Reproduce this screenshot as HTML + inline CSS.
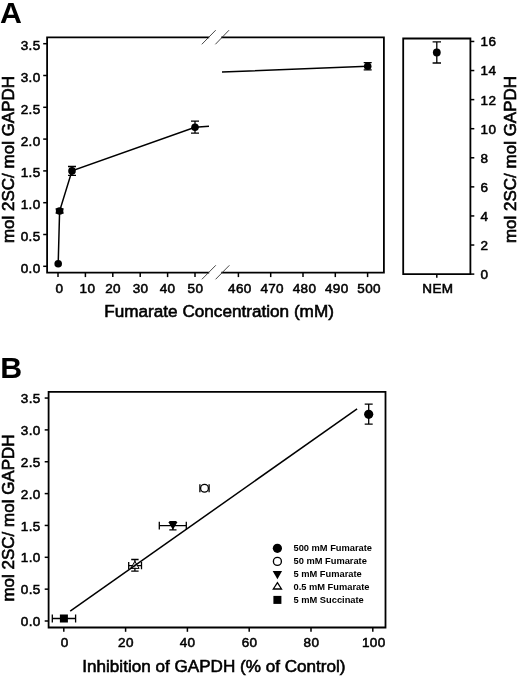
<!DOCTYPE html>
<html><head><meta charset="utf-8"><title>Figure</title>
<style>
html,body{margin:0;padding:0;background:#fff;}
body{width:520px;height:677px;overflow:hidden;}
svg{display:block;}
text{font-family:"Liberation Sans",Arial,Helvetica,sans-serif;fill:#000;}
.tk{font-size:13.5px;letter-spacing:0.35px;stroke:#000;stroke-width:0.55px;}
.ax{font-size:17px;stroke:#000;stroke-width:0.6px;}
.ax2{font-size:16px;stroke:#000;stroke-width:0.5px;}
.pl{font-size:30.3px;font-weight:bold;}
.lg{font-size:9.3px;font-weight:bold;}
.fr{stroke:#000;stroke-width:1.8;fill:none;stroke-linecap:square;}
.t{stroke:#000;stroke-width:1.5;fill:none;}
.d{stroke:#000;stroke-width:1.5;fill:none;}
.e{stroke:#000;stroke-width:1.3;fill:none;}
.s{stroke:#333;stroke-width:0.9;fill:none;}
</style></head><body>
<svg width="520" height="677" viewBox="0 0 520 677" style="will-change:transform;transform:translateZ(0)">
<rect width="520" height="677" fill="#fff"/>

<text class="pl" x="0" y="22.6">A</text>
<path class="fr" d="M208.3,37.3 H47.1 V272.6 H208.3 M222.2,272.6 H383.9 V37.3 H222.2"/>
<line class="s" x1="201.8" y1="44.3" x2="215.7" y2="30.2"/>
<line class="s" x1="215.4" y1="44.3" x2="229.0" y2="30.2"/>
<line class="s" x1="201.9" y1="279.3" x2="215.8" y2="265.3"/>
<line class="s" x1="215.6" y1="279.3" x2="229.4" y2="265.3"/>
<line class="t" x1="43.2" y1="266.3" x2="47.1" y2="266.3"/>
<text class="tk" text-anchor="end" x="40.5" y="272.7">0.0</text>
<line class="t" x1="43.2" y1="234.5" x2="47.1" y2="234.5"/>
<text class="tk" text-anchor="end" x="40.5" y="240.9">0.5</text>
<line class="t" x1="43.2" y1="202.7" x2="47.1" y2="202.7"/>
<text class="tk" text-anchor="end" x="40.5" y="209.1">1.0</text>
<line class="t" x1="43.2" y1="170.9" x2="47.1" y2="170.9"/>
<text class="tk" text-anchor="end" x="40.5" y="177.3">1.5</text>
<line class="t" x1="43.2" y1="139.1" x2="47.1" y2="139.1"/>
<text class="tk" text-anchor="end" x="40.5" y="145.5">2.0</text>
<line class="t" x1="43.2" y1="107.3" x2="47.1" y2="107.3"/>
<text class="tk" text-anchor="end" x="40.5" y="113.7">2.5</text>
<line class="t" x1="43.2" y1="75.5" x2="47.1" y2="75.5"/>
<text class="tk" text-anchor="end" x="40.5" y="81.9">3.0</text>
<line class="t" x1="43.2" y1="43.7" x2="47.1" y2="43.7"/>
<text class="tk" text-anchor="end" x="40.5" y="50.1">3.5</text>
<line class="t" x1="58" y1="272.6" x2="58" y2="277.1"/>
<text class="tk" text-anchor="middle" x="59.5" y="292.7">0</text>
<line class="t" x1="85.4" y1="272.6" x2="85.4" y2="277.1"/>
<text class="tk" text-anchor="middle" x="87.4" y="292.7">10</text>
<line class="t" x1="112.8" y1="272.6" x2="112.8" y2="277.1"/>
<text class="tk" text-anchor="middle" x="113" y="292.7">20</text>
<line class="t" x1="140.2" y1="272.6" x2="140.2" y2="277.1"/>
<text class="tk" text-anchor="middle" x="140.6" y="292.7">30</text>
<line class="t" x1="167.6" y1="272.6" x2="167.6" y2="277.1"/>
<text class="tk" text-anchor="middle" x="167.6" y="292.7">40</text>
<line class="t" x1="195" y1="272.6" x2="195" y2="277.1"/>
<text class="tk" text-anchor="middle" x="195.4" y="292.7">50</text>
<line class="t" x1="238.4" y1="272.6" x2="238.4" y2="277.1"/>
<text class="tk" text-anchor="middle" x="239.9" y="292.7">460</text>
<line class="t" x1="270.7" y1="272.6" x2="270.7" y2="277.1"/>
<text class="tk" text-anchor="middle" x="272.2" y="292.7">470</text>
<line class="t" x1="303" y1="272.6" x2="303" y2="277.1"/>
<text class="tk" text-anchor="middle" x="304.5" y="292.7">480</text>
<line class="t" x1="335.3" y1="272.6" x2="335.3" y2="277.1"/>
<text class="tk" text-anchor="middle" x="336.8" y="292.7">490</text>
<line class="t" x1="367.6" y1="272.6" x2="367.6" y2="277.1"/>
<text class="tk" text-anchor="middle" x="369.1" y="292.7">500</text>
<text class="ax" style="font-size:17.15px" x="104.3" y="316.6">Fumarate Concentration (mM)</text>
<text class="ax" transform="translate(13.8,243.1) rotate(-90)">mol 2SC/ mol GAPDH</text>
<path class="d" d="M58.2,263.7 L59.6,211 L72,170.9 L195,127.2 L209,126.3 M222,72 L367.7,66.3"/>
<circle cx="58.2" cy="263.7" r="3.8" fill="#000"/>
<path class="e" d="M59.6,209 V213 M55.6,209 H63.6 M55.6,213 H63.6"/>
<circle cx="59.6" cy="211" r="3.8" fill="#000"/>
<path class="e" d="M72,166.5 V175.3 M68,166.5 H76 M68,175.3 H76"/>
<circle cx="72" cy="170.9" r="3.8" fill="#000"/>
<path class="e" d="M195,121.2 V133.2 M191,121.2 H199 M191,133.2 H199"/>
<circle cx="195" cy="127.2" r="3.8" fill="#000"/>
<path class="e" d="M367.7,62.7 V69.9 M363.7,62.7 H371.7 M363.7,69.9 H371.7"/>
<circle cx="367.7" cy="66.3" r="3.8" fill="#000"/>
<path class="fr" d="M403.2,38.5 H470.4 V274.1 H403.2 Z"/>
<line class="t" x1="470.4" y1="274.1" x2="474.3" y2="274.1"/>
<text class="tk" x="480.6" y="279">0</text>
<line class="t" x1="470.4" y1="245.02" x2="474.3" y2="245.02"/>
<text class="tk" x="480.6" y="249.92">2</text>
<line class="t" x1="470.4" y1="215.94" x2="474.3" y2="215.94"/>
<text class="tk" x="480.6" y="220.84">4</text>
<line class="t" x1="470.4" y1="186.86" x2="474.3" y2="186.86"/>
<text class="tk" x="480.6" y="191.76">6</text>
<line class="t" x1="470.4" y1="157.78" x2="474.3" y2="157.78"/>
<text class="tk" x="480.6" y="162.68">8</text>
<line class="t" x1="470.4" y1="128.7" x2="474.3" y2="128.7"/>
<text class="tk" x="480.6" y="133.6">10</text>
<line class="t" x1="470.4" y1="99.62" x2="474.3" y2="99.62"/>
<text class="tk" x="480.6" y="104.52">12</text>
<line class="t" x1="470.4" y1="70.54" x2="474.3" y2="70.54"/>
<text class="tk" x="480.6" y="75.44">14</text>
<line class="t" x1="470.4" y1="41.46" x2="474.3" y2="41.46"/>
<text class="tk" x="480.6" y="46.36">16</text>
<line class="t" x1="436.8" y1="274" x2="436.8" y2="277.8"/>
<text class="tk" text-anchor="middle" x="437.9" y="293.4">NEM</text>
<path class="e" d="M436.8,41.8 V63 M432.6,41.8 H441 M432.6,63 H441"/>
<circle cx="436.8" cy="52.5" r="3.9" fill="#000"/>
<text class="ax" transform="translate(516.3,243.1) rotate(-90)">mol 2SC/ mol GAPDH</text>
<text class="pl" x="0.3" y="377.5">B</text>
<path class="fr" d="M48.6,391.8 H385.5 V627.5 H48.6 Z"/>
<line class="t" x1="44.7" y1="621" x2="48.6" y2="621"/>
<text class="tk" text-anchor="end" x="40.7" y="626.1">0.0</text>
<line class="t" x1="44.7" y1="589.15" x2="48.6" y2="589.15"/>
<text class="tk" text-anchor="end" x="40.7" y="594.25">0.5</text>
<line class="t" x1="44.7" y1="557.3" x2="48.6" y2="557.3"/>
<text class="tk" text-anchor="end" x="40.7" y="562.4">1.0</text>
<line class="t" x1="44.7" y1="525.45" x2="48.6" y2="525.45"/>
<text class="tk" text-anchor="end" x="40.7" y="530.55">1.5</text>
<line class="t" x1="44.7" y1="493.6" x2="48.6" y2="493.6"/>
<text class="tk" text-anchor="end" x="40.7" y="498.7">2.0</text>
<line class="t" x1="44.7" y1="461.75" x2="48.6" y2="461.75"/>
<text class="tk" text-anchor="end" x="40.7" y="466.85">2.5</text>
<line class="t" x1="44.7" y1="429.9" x2="48.6" y2="429.9"/>
<text class="tk" text-anchor="end" x="40.7" y="435">3.0</text>
<line class="t" x1="44.7" y1="398.05" x2="48.6" y2="398.05"/>
<text class="tk" text-anchor="end" x="40.7" y="403.15">3.5</text>
<line class="t" x1="63.8" y1="627.5" x2="63.8" y2="631.8"/>
<text class="tk" text-anchor="middle" x="64.7" y="647.3">0</text>
<line class="t" x1="125.6" y1="627.5" x2="125.6" y2="631.8"/>
<text class="tk" text-anchor="middle" x="125.9" y="647.3">20</text>
<line class="t" x1="187.4" y1="627.5" x2="187.4" y2="631.8"/>
<text class="tk" text-anchor="middle" x="187.6" y="647.3">40</text>
<line class="t" x1="249.2" y1="627.5" x2="249.2" y2="631.8"/>
<text class="tk" text-anchor="middle" x="249.6" y="647.3">60</text>
<line class="t" x1="311" y1="627.5" x2="311" y2="631.8"/>
<text class="tk" text-anchor="middle" x="311.4" y="647.3">80</text>
<line class="t" x1="372.8" y1="627.5" x2="372.8" y2="631.8"/>
<text class="tk" text-anchor="middle" x="373.8" y="647.3">100</text>
<text class="ax" style="font-size:17.1px" x="82.3" y="671.8">Inhibition of GAPDH (% of Control)</text>
<text class="ax" transform="translate(13.85,601.6) rotate(-90)">mol 2SC/ mol GAPDH</text>
<path class="e" d="M368.7,404.2 V424.2 M364.7,404.2 H372.7 M364.7,424.2 H372.7"/>
<circle cx="368.7" cy="414.3" r="4.6" fill="#000"/>
<path class="e" d="M199.9,488.2 H209.1 M199.9,484.2 V492.2 M209.1,484.2 V492.2"/>
<circle cx="204.5" cy="488.2" r="3.9" fill="#fff" stroke="#000" stroke-width="1.3"/>
<path class="e" d="M159.3,525.7 H186.3 M159.3,521.8 V529.6 M186.3,521.8 V529.6 M172.9,521.7 V529.9 M169.3,521.7 H176.5 M169.3,529.9 H176.5"/>
<path d="M168.3,522 H177.5 L172.9,529.8 Z" fill="#000"/>
<path class="e" d="M128.7,565.7 H141.5 M128.7,562.1 V569.3 M141.5,562.1 V569.3 M134.9,559.5 V571.1 M131.2,559.5 H138.6 M131.2,571.1 H138.6"/>
<path d="M134.9,561.3 L139.1,568.4 H130.7 Z" fill="#fff" fill-opacity="0.75" stroke="#000" stroke-width="1"/>
<line class="d" x1="70.2" y1="611.2" x2="357.1" y2="408.8"/>
<path class="e" d="M52.3,618.5 H75.6 M52.3,614.6 V622.4 M75.6,614.6 V622.4"/>
<rect x="59.9" y="614.5" width="8" height="8" fill="#000"/>
<circle cx="277.4" cy="548.3" r="4.6" fill="#000"/>
<circle cx="277.4" cy="561.4" r="4" fill="#fff" stroke="#000" stroke-width="1.35"/>
<path d="M272.7,571 H282.1 L277.4,579.3 Z" fill="#000"/>
<path d="M277.4,582.6 L281.5,589 H273.3 Z" fill="#fff" stroke="#000" stroke-width="1.3"/>
<rect x="273.4" y="595.9" width="8" height="8" fill="#000"/>
<text class="lg" x="293.5" y="551.3">500 mM Fumarate</text>
<text class="lg" x="293.5" y="564.2">50 mM Fumarate</text>
<text class="lg" x="293.5" y="577.1">5 mM Fumarate</text>
<text class="lg" x="293.5" y="590">0.5 mM Fumarate</text>
<text class="lg" x="293.5" y="602.9">5 mM Succinate</text>
</svg></body></html>
